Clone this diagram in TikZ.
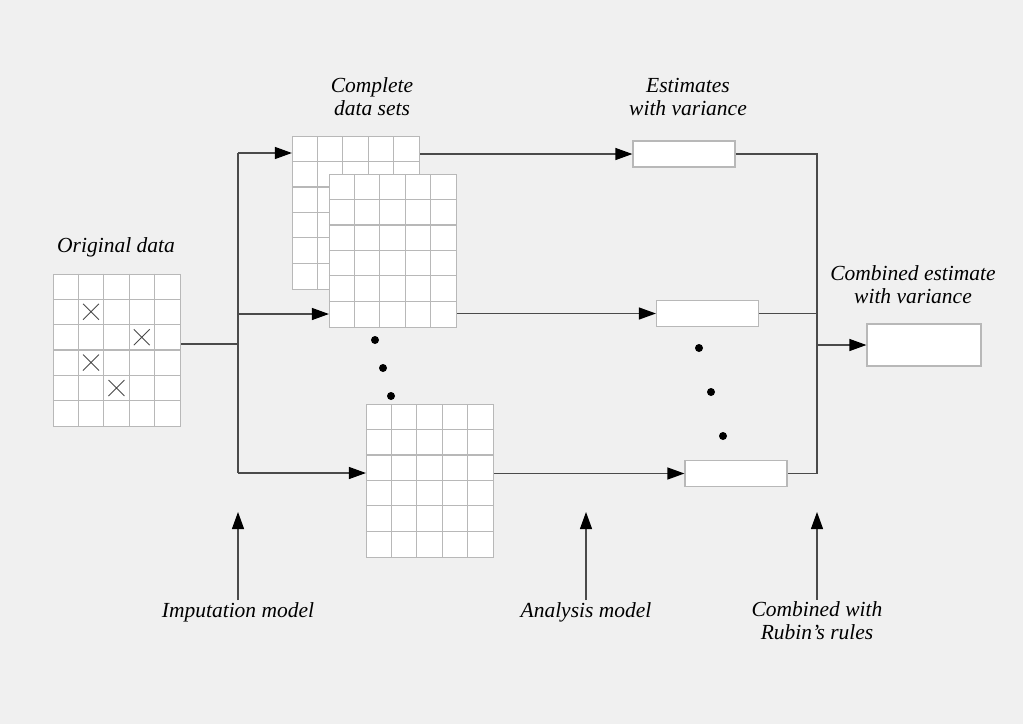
\documentclass[tikz,border=0pt]{standalone}
\usepackage{fontspec}
\setmainfont{Liberation Serif}
\usepackage{tikz}
\usetikzlibrary{arrows,arrows.meta,shapes.misc}

\definecolor{bg}{HTML}{F0F0F0}
\definecolor{wire}{HTML}{4A4A4A}
\definecolor{cellgray}{HTML}{B8B8B8}

% data table: 5 columns x 6 rows of cells
\newcommand{\datagrid}[2]{%
	\node[gridbox] (#1) at (#2) {};
	\foreach \i in {1,...,4}
		\draw[cell] ([xshift=\i*25.4pt]#1.north west) -- ([xshift=\i*25.4pt]#1.south west);
	\foreach \j in {1,...,5}
		\draw[cell] ([yshift=-\j*25.4pt]#1.north west) -- ([yshift=-\j*25.4pt]#1.north east);
}

\begin{document}
\begin{tikzpicture}[x=1pt, y=-1pt, >={Triangle[length=17pt,width=12pt,color=black]},
		font=\fontsize{21.5}{23}\selectfont\itshape]
		\tikzstyle{gridbox} = [draw=cellgray, fill=white, line width=1.2pt, minimum width=127pt, minimum height=152.4pt, inner sep=0pt]
		\tikzstyle{cell} = [draw=cellgray, line width=1.2pt]
		\tikzstyle{estbox} = [draw=cellgray, fill=white, line width=1.2pt, minimum width=102pt, minimum height=26pt, inner sep=0pt]
		\tikzstyle{wire} = [draw=wire, line width=1.2pt]
		\tikzstyle{dot} = [circle, fill=black, minimum size=8pt, inner sep=0pt]
		\tikzstyle{miss} = [cross out, draw=wire, line width=0.9pt, minimum size=15pt, inner sep=0pt]
		\tikzstyle{label} = [align=center, inner sep=2pt]

		\path[fill=bg, use as bounding box] (0,0) rectangle (1023,724);

		% tables
		\datagrid{orig}{117,350.5}
		\foreach \c/\r in {2/2,4/3,2/4,3/5}
			\node[miss] (x\c\r) at ([xshift=(\c-.5)*25.4pt, yshift=-(\r-.5)*25.4pt]orig.north west) {};
		\datagrid{cds1}{356,213}
		\datagrid{cds2}{393,251}
		\datagrid{cds3}{430,481}

		% estimates
		\node[estbox] (est1) at (684,154) {};
		\node[estbox] (est2) at (707.5,313.5) {};
		\node[estbox] (est3) at (736,473.5) {};
		\node[estbox, minimum width=114pt, minimum height=42pt] (comb) at (924,345) {};

		\foreach \n/\x/\y in {1/375/340, 2/383/368, 3/391/396}
			\node[dot] (dl\n) at (\x,\y) {};
		\foreach \n/\x/\y in {1/699/348, 2/711/392, 3/723/436}
			\node[dot] (dr\n) at (\x,\y) {};

		% labels
		\node[label] (lorig) at (116,247) {Original data};
		\node[label] (lcds) at (372,97) {Complete\\data sets};
		\node[label] (lest) at (688,97) {Estimates\\with variance};
		\node[label] (lcomb) at (913,285) {Combined estimate\\with variance};
		\node[label] (limp) at (238,612) {Imputation model};
		\node[label] (lana) at (586,612) {Analysis model};
		\node[label] (lrub) at (817,621) {Combined with\\Rubin's rules};

		\coordinate (fork) at (238,344);
		\coordinate (ftop) at (238,153);
		\coordinate (fmid) at (238,314);
		\coordinate (fbot) at (238,473);
		\coordinate (join) at (817,345);
		\coordinate (imptip) at (238,512);
		\coordinate (anatip) at (586,512);
		\coordinate (rubtip) at (817,512);

		% imputation
		\draw[wire] (orig.east |- fork) -- (fork);
		\draw[wire] (ftop) -- (fbot);
		\draw[wire, ->] (ftop) -- (ftop -| cds1.west);
		\draw[wire, ->] (fmid) -- (fmid -| cds2.west);
		\draw[wire, ->] (fbot) -- (fbot -| cds3.west);

		% analysis
		\draw[wire, ->] (cds1.east |- est1.west) -- (est1.west);
		\draw[wire, ->] (cds2.east |- est2.west) -- (est2.west);
		\draw[wire, ->] (cds3.east |- est3.west) -- (est3.west);

		% pooling
		\draw[wire] (est1.east) -- (est1.east -| join) -- (est3.east -| join) -- (est3.east);
		\draw[wire] (est2.east) -- (est2.east -| join);
		\draw[wire, ->] (join) -- (comb.west);

		\draw[wire, ->] (limp.north) -- (imptip);
		\draw[wire, ->] (lana.north) -- (anatip);
		\draw[wire, ->] (lrub.north) -- (rubtip);
\end{tikzpicture}
\end{document}
